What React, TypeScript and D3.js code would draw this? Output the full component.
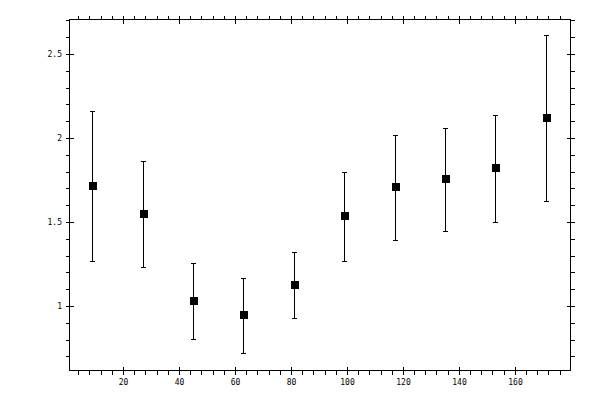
import { useEffect, useRef } from "react";
import * as d3 from "d3";

// data
const xValues = [ 9, 27, 45, 63, 81, 99, 117, 135, 153, 171 ];
const yValues = [ 1.712, 1.546, 1.028, 0.945, 1.123, 1.534, 1.707, 1.754, 1.82, 2.117 ];
const yErrors = [ 0.447, 0.315, 0.225, 0.222, 0.197, 0.265, 0.312, 0.308, 0.318, 0.494 ];
const xMajorTicks = [ 20, 40, 60, 80, 100, 120, 140, 160 ];
const yMajorTicks = [ 1, 1.5, 2, 2.5 ];

const W = 600;
const H = 400;
const FONT = "'DejaVu Sans Mono', monospace";

export default function App ()
{
    const svgRef = useRef<SVGSVGElement>( null );

    useEffect( () =>
    {
        if ( !svgRef.current ) return;
        const svg = d3.select( svgRef.current );
        svg.selectAll( "*" ).remove();

        const left = 69.5, right = 570.5, top = 19.5, bottom = 370.5;
        const x = d3.scaleLinear().domain( [ 0.7, 179.7 ] ).range( [ left, right ] );
        const y = d3.scaleLinear().domain( [ 0.616, 2.705 ] ).range( [ bottom, top ] );
        const cx = ( v: number ) => Math.floor( x( v ) ) + 0.5;
        const cy = ( v: number ) => Math.round( y( v ) ) + 0.5;

        const xMinor = d3.range( 4, 179, 4 ).filter( ( v ) => v % 20 !== 0 );
        const yMinor = d3.range( 7, 28 ).map( ( v ) => v / 10 ).filter( ( v ) => Math.round( v * 10 ) % 5 !== 0 );

        const g = svg.append( "g" ).attr( "stroke", "#000" ).attr( "stroke-width", 1 ).attr( "fill", "none" );

        // frame
        g.append( "rect" ).attr( "x", left ).attr( "y", top ).attr( "width", right - left ).attr( "height", bottom - top );

        // x ticks (bottom + top): minor outward, major crossing
        xMinor.forEach( ( v ) =>
        {
            const px = cx( v );
            g.append( "line" ).attr( "x1", px ).attr( "x2", px ).attr( "y1", bottom ).attr( "y2", bottom + 4 );
            g.append( "line" ).attr( "x1", px ).attr( "x2", px ).attr( "y1", top ).attr( "y2", top - 4 );
        } );
        xMajorTicks.forEach( ( v ) =>
        {
            const px = cx( v );
            g.append( "line" ).attr( "x1", px ).attr( "x2", px ).attr( "y1", bottom - 4 ).attr( "y2", bottom + 4 );
            g.append( "line" ).attr( "x1", px ).attr( "x2", px ).attr( "y1", top - 4 ).attr( "y2", top + 4 );
        } );

        // y ticks (left + right)
        yMinor.forEach( ( v ) =>
        {
            const py = cy( v );
            g.append( "line" ).attr( "x1", left ).attr( "x2", left - 4 ).attr( "y1", py ).attr( "y2", py );
            g.append( "line" ).attr( "x1", right ).attr( "x2", right + 4 ).attr( "y1", py ).attr( "y2", py );
        } );
        yMajorTicks.forEach( ( v ) =>
        {
            const py = cy( v );
            g.append( "line" ).attr( "x1", left - 4 ).attr( "x2", left + 4 ).attr( "y1", py ).attr( "y2", py );
            g.append( "line" ).attr( "x1", right - 4 ).attr( "x2", right + 4 ).attr( "y1", py ).attr( "y2", py );
        } );

        // labels
        const labels = svg.append( "g" ).attr( "fill", "#000" ).style( "font-family", FONT ).style( "font-size", "8px" );
        labels.selectAll( ".xl" ).data( xMajorTicks ).join( "text" ).attr( "class", "xl" )
            .attr( "x", ( d ) => cx( d ) ).attr( "y", 385 ).attr( "text-anchor", "middle" )
            .text( ( d ) => String( d ) );
        labels.selectAll( ".yl" ).data( yMajorTicks ).join( "text" ).attr( "class", "yl" )
            .attr( "x", 62 ).attr( "y", ( d ) => cy( d ) ).attr( "dy", "0.35em" ).attr( "text-anchor", "end" )
            .text( ( d ) => String( d ) );

        // error bars
        const pts = xValues.map( ( xv, i ) => ( { x: xv, y: yValues[ i ], e: yErrors[ i ] } ) );
        pts.forEach( ( p ) =>
        {
            const px = cx( p.x );
            const y1 = cy( p.y + p.e );
            const y0 = cy( p.y - p.e );
            g.append( "line" ).attr( "x1", px ).attr( "x2", px ).attr( "y1", y1 ).attr( "y2", y0 );
            g.append( "line" ).attr( "x1", px - 2.5 ).attr( "x2", px + 2.5 ).attr( "y1", y1 ).attr( "y2", y1 );
            g.append( "line" ).attr( "x1", px - 2.5 ).attr( "x2", px + 2.5 ).attr( "y1", y0 ).attr( "y2", y0 );
        } );

        // markers
        svg.append( "g" ).selectAll( "rect" ).data( pts ).join( "rect" )
            .attr( "x", ( d ) => cx( d.x ) - 3.5 )
            .attr( "y", ( d ) => cy( d.y ) - 4.5 )
            .attr( "width", 8 ).attr( "height", 8 ).attr( "fill", "#000" );
    }, [] );

    return (
        <div style={ { position: "absolute", left: 0, top: 0, width: W, height: H, background: "#fff" } }>
            <svg ref={ svgRef } width={ W } height={ H } shapeRendering="crispEdges" />
        </div>
    );
}
